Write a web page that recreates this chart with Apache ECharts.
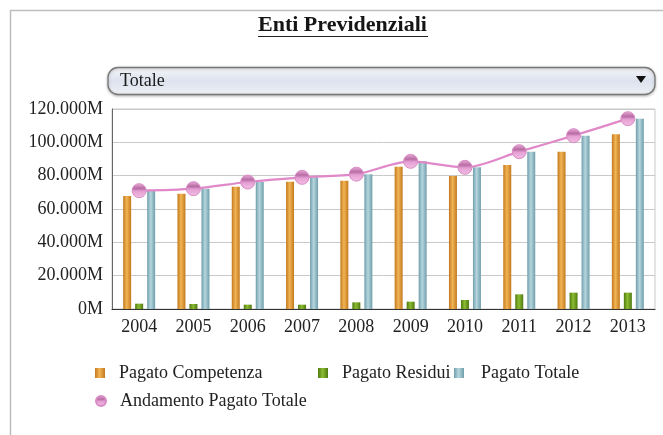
<!DOCTYPE html>
<html><head><meta charset="utf-8">
<script src="https://cdn.jsdelivr.net/npm/echarts@6/dist/echarts.min.js"></script>
<style>html,body{margin:0;padding:0;background:#fff}#c{width:663px;height:435px}</style>
</head><body><div id="c"></div>
<script>
var categories = ['2004','2005','2006','2007','2008','2009','2010','2011','2012','2013'];
var pagatoCompetenza = [67.8, 69.2, 73.4, 76.4, 77.0, 85.4, 79.8, 86.4, 94.4, 104.8];
var pagatoResidui = [3.2, 3.0, 2.6, 2.6, 4.0, 4.4, 5.4, 8.8, 9.8, 9.8];
var pagatoTotale = [71.0, 72.2, 76.2, 79.0, 80.9, 88.6, 85.0, 94.4, 104.0, 114.2];
var andamentoPagatoTotale = [71.0, 72.2, 76.2, 79.0, 80.9, 88.6, 85.0, 94.4, 104.0, 114.2];
var yTickLabels = ['0M','20.000M','40.000M','60.000M','80.000M','100.000M','120.000M'];

var FONT = '"Liberation Serif", "DejaVu Serif", serif';
function hgrad(edge, mid) {
  return new echarts.graphic.LinearGradient(0, 0, 1, 0, [
    {offset: 0, color: edge}, {offset: 0.45, color: mid}, {offset: 1, color: edge}
  ]);
}
var cOrange = hgrad('#c27a1e', '#f2b454');
var cGreen = hgrad('#4e7a10', '#8cbc32');
var cBlue = hgrad('#6f9eab', '#b6d6de');

var chart = echarts.init(document.getElementById('c'), null, {renderer: 'canvas'});
var legendText = {fontFamily: FONT, fontSize: 18, color: '#222'};
function lg(name, left, top, icon, pad) {
  return {
    data: [{name: name, icon: icon}], left: left, top: top, itemWidth: 10, itemHeight: 10,
    padding: 0, selectedMode: false,
    textStyle: Object.assign({padding: [0, 0, 0, pad]}, legendText)
  };
}
chart.setOption({
  animation: false,
  backgroundColor: '#fff',
  title: {
    text: 'Enti Previdenziali', left: 258, top: 14, padding: 0,
    textStyle: {fontFamily: FONT, fontSize: 22, fontWeight: 'bold', color: '#151515'}
  },
  graphic: [
    {type: 'rect', shape: {x: 10.5, y: 10.5, width: 700, height: 460}, style: {fill: 'none', stroke: '#bdbdbd', lineWidth: 1.5}, z: -1},
    {type: 'line', shape: {x1: 258, y1: 36.5, x2: 428, y2: 36.5}, style: {stroke: '#222', lineWidth: 1.2}},
    {type: 'rect', shape: {x: 108, y: 67.5, width: 547, height: 27, r: 10},
      style: {
        fill: new echarts.graphic.LinearGradient(0, 0, 0, 1, [
          {offset: 0, color: '#f6f7fa'}, {offset: 0.5, color: '#dde2ee'}, {offset: 1, color: '#eef0f4'}
        ]),
        stroke: '#777', lineWidth: 1.3, shadowColor: 'rgba(0,0,0,0.25)', shadowBlur: 3, shadowOffsetY: 1
      }},
    {type: 'text', x: 120, y: 81, style: {text: 'Totale', font: '18px ' + FONT, fill: '#1a1a1a', textVerticalAlign: 'middle'}},
    {type: 'polygon', shape: {points: [[636, 76], [646, 76], [641, 83]]}, style: {fill: '#111'}}
  ],
  legend: [
    lg('Pagato Competenza', 95, 364, 'rect', 9),
    lg('Pagato Residui', 318, 364, 'rect', 9),
    lg('Pagato Totale', 454, 364, 'rect', 12),
    lg('Andamento Pagato Totale', 95, 392, 'circle', 9)
  ],
  grid: {left: 112, right: 8, top: 109, bottom: 126, show: true, borderColor: '#c9c9c9', borderWidth: 1},
  xAxis: {
    type: 'category', data: categories,
    axisLine: {lineStyle: {color: '#333', width: 1.2}},
    axisTick: {show: false},
    axisLabel: {fontFamily: FONT, fontSize: 18, color: '#222', margin: 9}
  },
  yAxis: {
    type: 'value', min: 0, max: 120, interval: 20,
    axisLine: {show: true, lineStyle: {color: '#666'}},
    axisTick: {show: false},
    splitLine: {lineStyle: {color: '#c9c9c9'}},
    axisLabel: {
      fontFamily: FONT, fontSize: 18, color: '#222', margin: 9,
      formatter: function (v) { return yTickLabels[Math.round(v / 20)]; }
    }
  },
  series: [
    {name: 'Pagato Competenza', type: 'bar', data: pagatoCompetenza, barWidth: 8, barGap: '50%', itemStyle: {color: cOrange}},
    {name: 'Pagato Residui', type: 'bar', data: pagatoResidui, barWidth: 8, barGap: '50%', itemStyle: {color: cGreen}},
    {name: 'Pagato Totale', type: 'bar', data: pagatoTotale, barWidth: 8, barGap: '50%', itemStyle: {color: cBlue}},
    {name: 'Andamento Pagato Totale', type: 'line', data: andamentoPagatoTotale, smooth: 0.3,
      symbol: 'circle', symbolSize: 14, z: 5,
      lineStyle: {color: '#e088c8', width: 2.2},
      itemStyle: {
        color: new echarts.graphic.LinearGradient(0, 0, 0, 1, [
          {offset: 0, color: '#eeb0dc'}, {offset: 0.35, color: '#b86ca4'}, {offset: 0.55, color: '#e6a0d4'}, {offset: 1, color: '#f2c0e4'}
        ]),
        borderColor: '#d88cc4', borderWidth: 1
      }}
  ]
});
</script></body></html>
